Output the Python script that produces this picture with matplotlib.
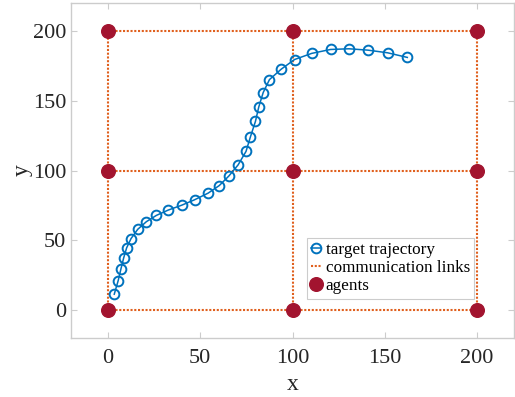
import numpy as np
import matplotlib.pyplot as plt

plt.rcParams['font.family'] = ['Liberation Serif', 'DejaVu Serif']

# target path samples
traj_x = [3.4, 5.5, 7.0, 8.5, 10.1, 12.5, 16.1, 20.8, 26.2, 32.6, 40.1, 46.9, 54.3,
          60.3, 65.6, 70.5, 74.8, 77.2, 79.9, 81.7, 84.1, 87.5, 93.9, 101.1, 110.4,
          120.6, 130.6, 141.0, 151.6, 162.2]
traj_y = [11.3, 20.9, 29.3, 37.3, 44.5, 51.2, 57.8, 63.3, 67.8, 71.6, 75.2, 79.0, 83.8,
          89.2, 96.2, 104.0, 113.7, 124.2, 135.2, 145.5, 155.9, 165.2, 172.7, 179.6, 184.0,
          186.8, 187.3, 186.3, 184.4, 181.1]

# agent positions on a 3x3 grid
agents_x = [0, 100, 200, 0, 100, 200, 0, 100, 200]
agents_y = [0, 0, 0, 100, 100, 100, 200, 200, 200]

# neighbouring agents that share a link
links = [(0, 1), (1, 2), (3, 4), (4, 5), (6, 7), (7, 8),
         (0, 3), (3, 6), (1, 4), (4, 7), (2, 5), (5, 8)]

fig = plt.figure(figsize=(5.15, 3.97), dpi=100)
ax = fig.add_axes([0.138, 0.149, 0.86, 0.843])

ax.plot(traj_x, traj_y, '-o', color='#0072BD', lw=1.1, ms=7, mew=1.4,
        fillstyle='none', label='target trajectory', zorder=3)

for k, (i, j) in enumerate(links):
    ax.plot([agents_x[i], agents_x[j]], [agents_y[i], agents_y[j]],
            ls=(0, (1.0, 0.8)), color='#E0601E', lw=1.5,
            label='communication links' if k == 0 else None, zorder=2)

ax.plot(agents_x, agents_y, 'o', color='#A2142F', ms=9.8, ls='none',
        label='agents', zorder=4)

ax.set_xlim(-20, 220)
ax.set_ylim(-20, 220)
ax.set_xticks([0, 50, 100, 150, 200])
ax.set_yticks([0, 50, 100, 150, 200])
ax.set_xlabel('x', fontsize=17, color='#262626', labelpad=4)
ax.set_ylabel('y', fontsize=17, color='#262626', labelpad=0)

for s in ax.spines.values():
    s.set_color('#cccccc')
    s.set_linewidth(1.0)
ax.tick_params(direction='in', length=4, width=0.8, colors='#cccccc',
               labelcolor='#262626', labelsize=16, top=True, right=True)
ax.tick_params(axis='x', pad=8)

leg = ax.legend(loc='lower right', bbox_to_anchor=(0.91, 0.117), fontsize=12.3,
                handlelength=0.6, handletextpad=0.25, borderpad=0.25,
                labelspacing=0.12, borderaxespad=0, fancybox=False,
                framealpha=1)
leg.get_frame().set_edgecolor('#cccccc')
leg.get_frame().set_linewidth(0.8)

fig.savefig('out.png')
